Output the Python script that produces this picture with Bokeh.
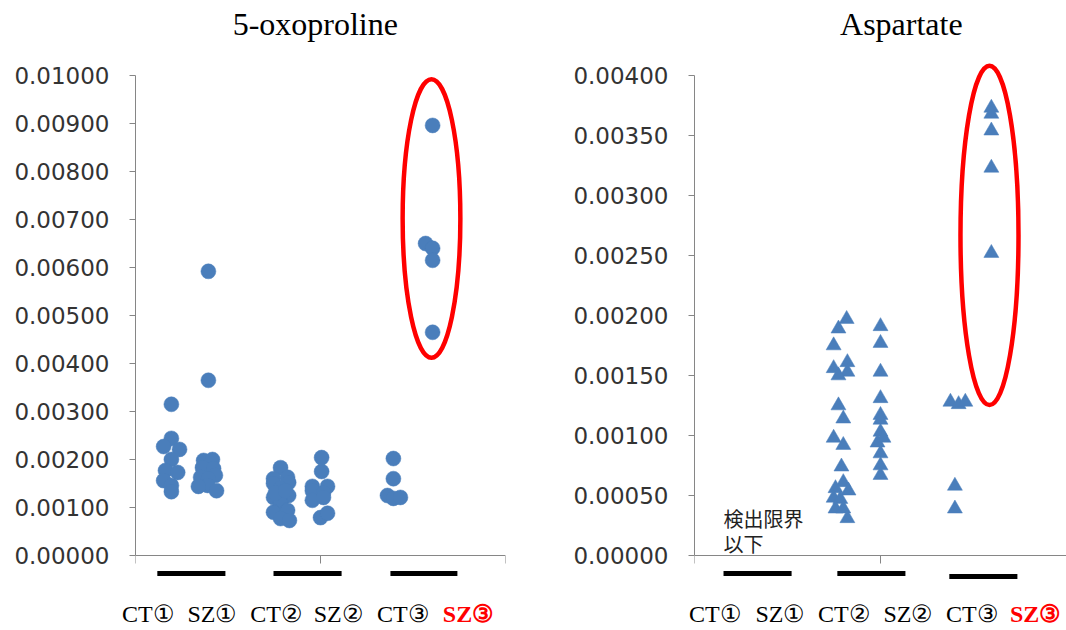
from bokeh.plotting import figure
from bokeh.layouts import row, column
from bokeh.models import Label, FixedTicker, PrintfTickFormatter, LinearAxis, Range1d
from bokeh.embed import file_html
from bokeh.resources import INLINE

# ---------------- data ----------------
group_labels = ["CT①", "SZ①", "CT②", "SZ②", "CT③", "SZ③"]

# 5-oxoproline (x = jittered group position, y = value)
oxo_ct1_x = [0.97, 0.97, 0.76, 1.19, 0.97, 0.81, 1.14, 0.76, 0.97, 0.97]
oxo_ct1_y = [0.00315, 0.00244, 0.00227, 0.00221, 0.00200, 0.00177, 0.00173, 0.00156, 0.00146, 0.00133]
oxo_sz1_x = [1.97, 1.97, 1.84, 2.08, 1.81, 2.11, 2.16, 1.76, 1.97, 1.95, 1.70, 2.19]
oxo_sz1_y = [0.00592, 0.00365, 0.00198, 0.00200, 0.00183, 0.00181, 0.00167, 0.00163, 0.00160, 0.00146, 0.00144, 0.00135]
oxo_ct2_x = [3.92, 3.73, 4.11, 3.73, 4.14, 3.92, 3.73, 4.14, 3.92, 3.73, 4.11, 3.92, 4.16, 3.78, 4.05]
oxo_ct2_y = [0.00183, 0.00160, 0.00163, 0.00150, 0.00152, 0.00140, 0.00121, 0.00125, 0.00110, 0.00090, 0.00094, 0.00077, 0.00073, 0.00130, 0.00135]
oxo_sz2_x = [5.03, 5.03, 4.78, 5.19, 4.78, 5.08, 4.78, 5.08, 5.00, 5.19]
oxo_sz2_y = [0.00204, 0.00175, 0.00144, 0.00144, 0.00135, 0.00130, 0.00115, 0.00121, 0.00079, 0.00088]
oxo_ct3_x = [6.97, 6.97, 6.81, 6.97, 7.16]
oxo_ct3_y = [0.00202, 0.00160, 0.00125, 0.00119, 0.00121]
oxo_sz3_x = [8.03, 7.84, 8.03, 8.03, 8.03]
oxo_sz3_y = [0.00896, 0.00650, 0.00640, 0.00615, 0.00465]

# Aspartate (CT1 / SZ1 below detection limit)
asp_ct2_x = [4.09, 3.87, 3.74, 4.11, 3.74, 4.11, 3.87, 3.87, 4.00, 3.74,
             4.00, 3.95, 4.00, 3.79, 4.14, 3.74, 3.92, 3.79, 4.00, 4.11]
asp_ct2_y = [0.00197, 0.00189, 0.00175, 0.00161, 0.00156, 0.00153, 0.00150, 0.00125, 0.00114, 0.00098,
             0.00092, 0.00074, 0.00061, 0.00056, 0.00054, 0.00048, 0.00047, 0.00039, 0.00039, 0.00031]
asp_sz2_x = [5.00, 5.00, 5.00, 5.00, 5.00, 5.00, 5.00, 4.92, 5.08, 5.00, 5.00, 5.00]
asp_sz2_y = [0.00191, 0.00177, 0.00153, 0.00131, 0.00117, 0.00113, 0.00103, 0.00094, 0.00098, 0.00085, 0.00075, 0.00067]
asp_ct3_x = [6.88, 7.10, 7.28, 7.00, 7.00]
asp_ct3_y = [0.00128, 0.00126, 0.00128, 0.00058, 0.00039]
asp_sz3_x = [7.98, 7.98, 7.98, 7.98, 7.98]
asp_sz3_y = [0.00373, 0.00368, 0.00354, 0.00323, 0.00252]

# ---------------- style / layout ----------------
BLUE = "#4A7EBB"
AXIS = "#868686"
TICKTXT = "#333333"
SERIF = "Liberation Serif"
YMAX_PX = 75       # pixel row of the top tick
ZERO_PX = 555      # pixel row of value 0
TITLE_PX = 23      # pixel row of the panel titles
MAIN_BOTTOM = 580  # frame bottom of the main figures (px)
MAIN_H = 600       # main figure height; the strip below holds the group labels
STRIP_H = 630 - MAIN_H
LABEL_PX = 613     # pixel row of the group labels
TOTAL_W = 1066


def make_panel(title, title_x, ymax, ystep, width, axis_px, unit_px, border_right):
    per_px = ymax / (ZERO_PX - YMAX_PX)
    y0 = -(MAIN_BOTTOM - ZERO_PX) * per_px
    y1 = ymax + YMAX_PX * per_px
    x1 = (width - border_right - axis_px) / unit_px
    p = figure(width=width, height=MAIN_H, x_range=(0, x1), y_range=(y0, y1),
               output_backend="svg", toolbar_location=None, x_axis_location=None,
               min_border_left=axis_px, min_border_right=border_right,
               min_border_top=0, min_border_bottom=MAIN_H - MAIN_BOTTOM)
    p.title = None
    p.outline_line_color = None
    p.xgrid.visible = False
    p.ygrid.visible = False

    p.add_layout(Label(x=title_x, y=(ZERO_PX - TITLE_PX) * per_px, text=title,
                       text_font=SERIF, text_font_size="32px", text_color="#000000",
                       text_align="center", text_baseline="middle"))

    yt = [round(i * ystep, 6) for i in range(int(round(ymax / ystep)) + 1)]
    p.yaxis.ticker = FixedTicker(ticks=yt)
    p.yaxis.bounds = (0, ymax)
    p.yaxis.formatter = PrintfTickFormatter(format="%.5f")
    p.yaxis.axis_line_color = AXIS
    p.yaxis.major_tick_line_color = AXIS
    p.yaxis.major_tick_out = 6
    p.yaxis.major_tick_in = 0
    p.yaxis.minor_tick_line_color = None
    p.yaxis.major_label_text_font = "DejaVu Sans"
    p.yaxis.major_label_text_font_size = "23px"
    p.yaxis.major_label_text_color = TICKTXT
    p.yaxis.major_label_standoff = 20

    # x axis drawn at value 0; ticks at 0,5,10 pointing downward, no labels
    xa = LinearAxis(ticker=FixedTicker(ticks=[], minor_ticks=[0, 5, 10]),
                    fixed_location=0, bounds=(0, 10), axis_line_color=AXIS,
                    major_tick_line_color=None, major_label_standoff=0,
                    minor_tick_line_color=AXIS, minor_tick_in=0, minor_tick_out=8)
    p.add_layout(xa, "below")
    return p


def add_bars(p, bar_ranges, bar_y):
    x0s = [a for a, b in bar_ranges]
    x1s = [b for a, b in bar_ranges]
    p.segment(x0=x0s, x1=x1s, y0=bar_y, y1=bar_y, line_color="black", line_width=5)


# ---------------- left panel ----------------
L_AXIS, L_UNIT, L_W = 135, 37.0, 560
p1 = make_panel("5-oxoproline", 4.86, 0.01, 0.001, L_W, L_AXIS, L_UNIT, 55)
for xs, ys in [(oxo_ct1_x, oxo_ct1_y), (oxo_sz1_x, oxo_sz1_y), (oxo_ct2_x, oxo_ct2_y),
               (oxo_sz2_x, oxo_sz2_y), (oxo_ct3_x, oxo_ct3_y), (oxo_sz3_x, oxo_sz3_y)]:
    p1.scatter(xs, ys, marker="circle", size=15, fill_color=BLUE, line_color=BLUE, line_width=0.5)
p1.ellipse(x=[8.0], y=[0.00702], width=[1.56], height=[0.0058],
           fill_color=None, line_color="#FF0000", line_width=4.5)
add_bars(p1, [(0.59, 2.43), (3.73, 5.57), (6.89, 8.7)],
         [-0.000375, -0.000375, -0.000375])

# ---------------- right panel ----------------
R_AXIS, R_UNIT, R_W = 134, 37.2, 506
p2 = make_panel("Aspartate", 5.56, 0.004, 0.0005, R_W, R_AXIS, R_UNIT, 0)
for xs, ys in [(asp_ct2_x, asp_ct2_y), (asp_sz2_x, asp_sz2_y),
               (asp_ct3_x, asp_ct3_y), (asp_sz3_x, asp_sz3_y)]:
    p2.scatter(xs, ys, marker="triangle", size=15, fill_color=BLUE, line_color=BLUE, line_width=0.5)
p2.ellipse(x=[7.93], y=[0.002667], width=[1.56], height=[0.00283],
           fill_color=None, line_color="#FF0000", line_width=4.5)
p2.add_layout(Label(x=0.78, y=0.00043, text="検出限界\n以下", text_font="Noto Sans CJK JP",
                    text_font_size="20px", text_color="#222222",
                    text_align="left", text_baseline="top", text_line_height=0.87))
add_bars(p2, [(0.78, 2.61), (3.84, 5.67), (6.85, 8.68)],
         [-0.00015, -0.00015, -0.000175])

# ---------------- group label strip (full width, both panels' x units) ----------------
left_label_x = [0.35, 2.08, 3.81, 5.49, 7.24, 9.0]
right_label_x = [0.56, 2.31, 4.03, 5.75, 7.47, 9.17]
r0 = L_W + R_AXIS
strip = figure(width=TOTAL_W, height=STRIP_H,
               x_range=(-L_AXIS / L_UNIT, (TOTAL_W - L_AXIS) / L_UNIT), y_range=(0, STRIP_H),
               output_backend="svg", toolbar_location=None,
               x_axis_location=None, y_axis_location=None,
               min_border_left=0, min_border_right=0, min_border_top=0, min_border_bottom=0)
strip.extra_x_ranges = {"right": Range1d(-r0 / R_UNIT, (TOTAL_W - r0) / R_UNIT)}
strip.title = None
strip.outline_line_color = None
strip.xgrid.visible = False
strip.ygrid.visible = False
for rng, xs in [("default", left_label_x), ("right", right_label_x)]:
    for i, (lx, txt) in enumerate(zip(xs, group_labels)):
        last = i == len(group_labels) - 1
        strip.add_layout(Label(x=lx, y=630 - LABEL_PX, text=txt, x_range_name=rng,
                               text_font=SERIF, text_font_size="24px",
                               text_align="center", text_baseline="middle",
                               text_color="#FF0000" if last else "#000000",
                               text_font_style="bold" if last else "normal"))

layout = column(row(p1, p2, spacing=0), strip, spacing=0)
open("out.html", "w").write(file_html(layout, INLINE))
